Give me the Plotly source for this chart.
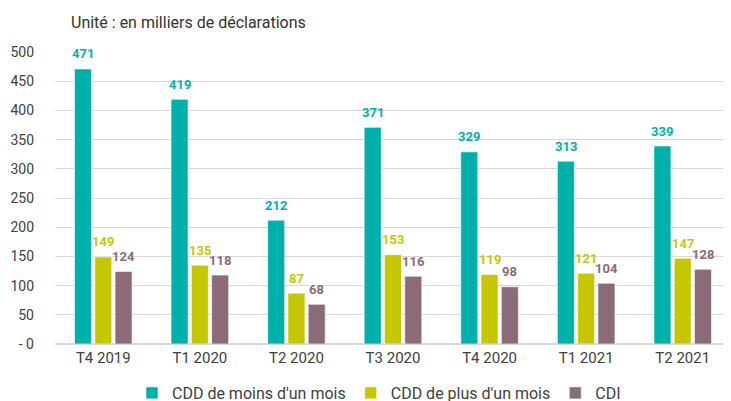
import plotly.graph_objects as go

categories = ["T4 2019", "T1 2020", "T2 2020", "T3 2020", "T4 2020", "T1 2021", "T2 2021"]
cdd_moins = [471, 419, 212, 371, 329, 313, 339]
cdd_plus = [149, 135, 87, 153, 119, 121, 147]
cdi = [124, 118, 68, 116, 98, 104, 128]
series_names = ["CDD de moins d'un mois", "CDD de plus d'un mois", "CDI"]
tick_vals = [0, 50, 100, 150, 200, 250, 300, 350, 400, 450, 500]
tick_text = ["- 0", "50", "100", "150", "200", "250", "300", "350", "400", "450", "500"]
title_text = "Unité : en milliers de déclarations"

colors = ["#00B0AA", "#C5C800", "#8B6B7A"]
font_family = "Roboto, 'DejaVu Sans', sans-serif"

# page has an 8px body margin; figure coordinates are relative to (8, 8)
OFF = 8
W, H = 731, 401
plot_left, plot_right = 55 - OFF, 731 - OFF
plot_top, plot_bottom = 52 - OFF, 344 - OFF

fig = go.Figure()
series = [cdd_moins, cdd_plus, cdi]
for name, vals, col in zip(series_names, series, colors):
    fig.add_trace(go.Bar(
        x=categories, y=vals, name=name,
        marker=dict(color=col, line=dict(color="rgba(255,255,255,0.6)", width=1)),
        hoverinfo="x+y+name",
    ))

offsets = [-20.3, 0, 20.3]
for vals, col, dx in zip(series, colors, offsets):
    for c, v in zip(categories, vals):
        fig.add_annotation(
            x=c, y=v, text=f"<b>{v}</b>", showarrow=False,
            xshift=dx, yshift=15, yanchor="middle",
            font=dict(family=font_family, size=13, color=col),
        )

fig.add_annotation(
    x=(69 - OFF - plot_left) / (plot_right - plot_left),
    y=(plot_bottom - (22 - OFF)) / (plot_bottom - plot_top),
    xref="paper", yref="paper", text=title_text, showarrow=False,
    xanchor="left", yanchor="middle",
    font=dict(family=font_family, size=16, color="#333333"),
)

fig.update_layout(
    width=W, height=H,
    margin=dict(l=plot_left, r=W - plot_right, t=plot_top, b=H - plot_bottom, pad=0, autoexpand=False),
    paper_bgcolor="white", plot_bgcolor="white",
    barmode="group", bargap=0.37, bargroupgap=0.16,
    font=dict(family=font_family, size=14, color="#404040"),
    showlegend=True,
    legend=dict(
        orientation="h", x=(379 - OFF - plot_left) / (plot_right - plot_left), xanchor="center",
        yref="container", y=(H - (393 - OFF)) / H, yanchor="middle",
        font=dict(family=font_family, size=16, color="#404040"),
        itemwidth=30, tracegroupgap=0,
    ),
    xaxis=dict(
        showgrid=False, showline=True, linecolor="#d9d9d9", linewidth=1,
        ticks="", automargin=False,
        tickfont=dict(family=font_family, size=15, color="#404040"),
    ),
    yaxis=dict(
        range=[0, 500], tickvals=tick_vals, ticktext=tick_text,
        showgrid=True, gridcolor="#d9d9d9", gridwidth=1,
        zeroline=True, zerolinecolor="#d9d9d9",
        ticks="", ticklabelstandoff=20, automargin=False,
        tickfont=dict(family=font_family, size=14, color="#404040"),
    ),
)

fig.write_html("out.html")
